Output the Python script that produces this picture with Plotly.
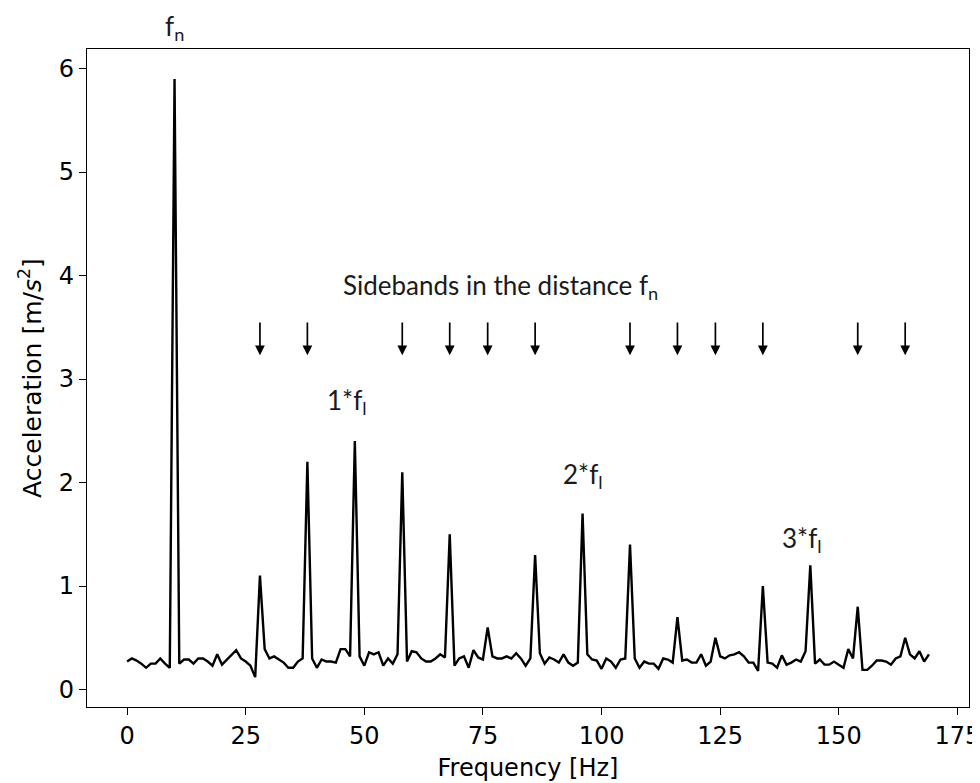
import plotly.graph_objects as go

freq_hz = list(range(0, 170))
acceleration = [
    0.27, 0.30, 0.28, 0.25, 0.21, 0.25, 0.25, 0.30, 0.25, 0.21,
    5.90, 0.25, 0.29, 0.29, 0.25, 0.30, 0.30, 0.27, 0.23, 0.34,
    0.24, 0.29, 0.33, 0.38, 0.30, 0.27, 0.23, 0.12, 1.10, 0.39,
    0.30, 0.32, 0.29, 0.26, 0.21, 0.21, 0.27, 0.30, 2.20, 0.30,
    0.21, 0.29, 0.27, 0.27, 0.26, 0.39, 0.39, 0.32, 2.40, 0.32,
    0.23, 0.36, 0.34, 0.36, 0.23, 0.30, 0.25, 0.34, 2.10, 0.27,
    0.37, 0.36, 0.30, 0.27, 0.27, 0.30, 0.34, 0.31, 1.50, 0.23,
    0.30, 0.32, 0.21, 0.38, 0.31, 0.29, 0.60, 0.32, 0.30, 0.30,
    0.32, 0.30, 0.35, 0.30, 0.23, 0.30, 1.30, 0.35, 0.25, 0.31,
    0.29, 0.26, 0.34, 0.26, 0.23, 0.26, 1.70, 0.34, 0.29, 0.28,
    0.20, 0.30, 0.27, 0.21, 0.29, 0.30, 1.40, 0.30, 0.21, 0.27,
    0.25, 0.25, 0.20, 0.30, 0.29, 0.26, 0.70, 0.28, 0.29, 0.26,
    0.26, 0.34, 0.23, 0.27, 0.50, 0.32, 0.30, 0.33, 0.34, 0.36,
    0.32, 0.26, 0.26, 0.18, 1.00, 0.26, 0.25, 0.21, 0.33, 0.24,
    0.26, 0.29, 0.27, 0.37, 1.20, 0.25, 0.29, 0.24, 0.24, 0.27,
    0.24, 0.21, 0.39, 0.30, 0.80, 0.19, 0.19, 0.23, 0.28, 0.28,
    0.27, 0.24, 0.30, 0.32, 0.50, 0.34, 0.30, 0.37, 0.27, 0.34,
]

sideband_hz = [28, 38, 58, 68, 76, 86, 106, 116, 124, 134, 154, 164]
arrow_tail_y = 3.56
arrow_head_y = 3.23

label_texts = ["f<sub>n</sub>", "Sidebands in the distance f<sub>n</sub>",
               "1*f<sub>l</sub>", "2*f<sub>l</sub>", "3*f<sub>l</sub>"]
label_x = [10, 78.8, 46.3, 96.0, 142.2]
label_y = [6.40, 3.89, 2.78, 2.07, 1.45]

x_ticks = [0, 25, 50, 75, 100, 125, 150, 175]
y_ticks = [0, 1, 2, 3, 4, 5, 6]

xr = max(freq_hz) - min(freq_hz)
yr = max(acceleration) - min(acceleration)
x_range = [min(freq_hz) - 0.05 * xr, max(freq_hz) + 0.05 * xr]
y_range = [min(acceleration) - 0.05 * yr, max(acceleration) + 0.05 * yr]

fig = go.Figure()
fig.add_trace(go.Scatter(x=freq_hz, y=acceleration, mode="lines",
                         line=dict(color="black", width=2.4), showlegend=False))

ann_font = dict(family="Lato, Open Sans, sans-serif", size=26, color="#1a1a1a")
annotations = []
for hz in sideband_hz:
    annotations.append(dict(x=hz, y=arrow_head_y, ax=hz, ay=arrow_tail_y,
                            xref="x", yref="y", axref="x", ayref="y",
                            text="", showarrow=True, arrowhead=2, arrowsize=1.15,
                            arrowwidth=1.7, arrowcolor="black"))
for t, lx, ly in zip(label_texts, label_x, label_y):
    if ly > y_range[1]:
        annotations.append(dict(x=lx, y=(ly - y_range[0]) / (y_range[1] - y_range[0]),
                                xref="x", yref="paper", text=t,
                                showarrow=False, font=ann_font, borderpad=0,
                                xanchor="center", yanchor="middle"))
    else:
        annotations.append(dict(x=lx, y=ly, xref="x", yref="y", text=t,
                                showarrow=False, font=ann_font,
                                xanchor="center", yanchor="middle"))

axis_font = dict(family="DejaVu Sans", size=24, color="black")
axis_common = dict(showline=True, linecolor="black", linewidth=1.3, mirror=True,
                   ticks="outside", ticklen=7, tickwidth=1.3, tickcolor="black",
                   showgrid=False, zeroline=False, automargin=False,
                   tickfont=axis_font)

# the page body adds an 8px offset at left/top; margins compensate for it
fig.update_layout(
    width=980, height=783,
    paper_bgcolor="white", plot_bgcolor="white",
    margin=dict(l=79, r=19, t=41, b=84),
    annotations=annotations,
    xaxis=dict(range=x_range, tickvals=x_ticks,
               title=dict(text="Frequency [Hz]", standoff=10, font=axis_font),
               **axis_common),
    yaxis=dict(range=y_range, tickvals=y_ticks,
               title=dict(text="Acceleration [m/<i>s</i><sup>2</sup>]", standoff=10,
                          font=dict(family="DejaVu Sans", size=25, color="black")),
               **axis_common),
)

fig.write_html("out.html")
